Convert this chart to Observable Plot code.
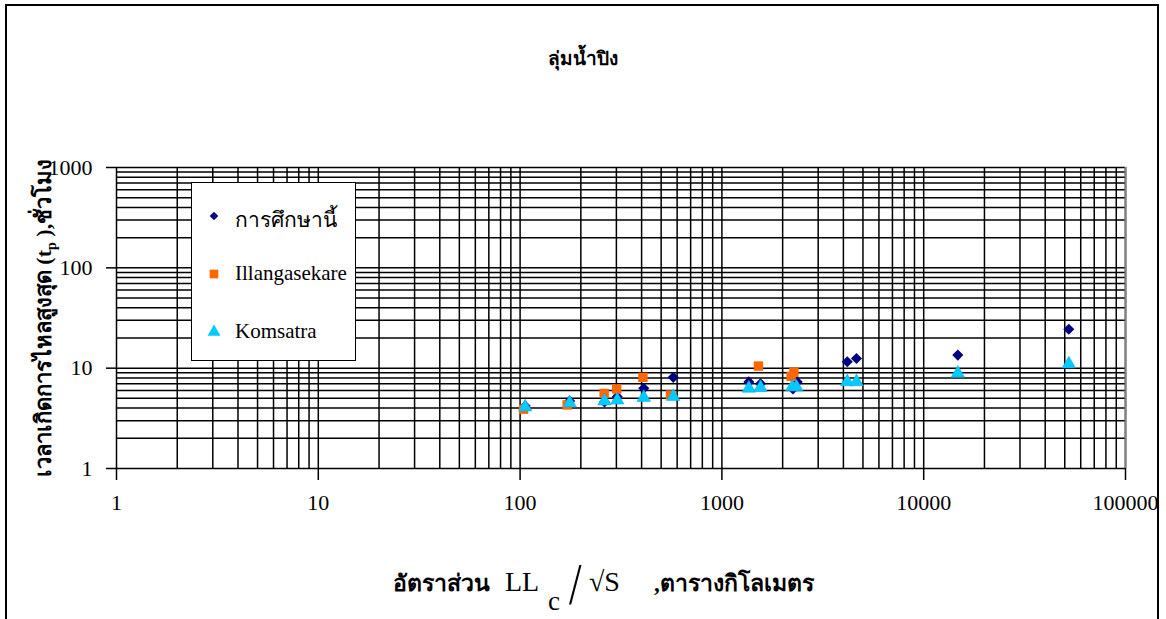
<!DOCTYPE html>
<html><head><meta charset="utf-8">
<script src="https://cdn.jsdelivr.net/npm/d3@7"></script>
<script src="https://cdn.jsdelivr.net/npm/@observablehq/plot@0.6"></script>
<style>
body{margin:0;background:#fff;}
#wrap{position:relative;width:1166px;height:619px;overflow:hidden;font-family:"Liberation Serif","DejaVu Serif","Times New Roman",serif;color:#000;}
#frame{position:absolute;left:5px;top:4px;width:1150px;height:660px;border:2px solid #000;}
#chart{position:absolute;left:0;top:0;}
.t{position:absolute;white-space:nowrap;line-height:1;}
#title{left:0;width:1166px;top:49px;text-align:center;font-weight:bold;font-size:19px;}
#ylab{left:46px;top:318px;transform:translate(-50%,-50%) rotate(-90deg);font-weight:bold;font-size:22px;}
.xl{position:absolute;white-space:nowrap;line-height:1;transform:translateY(-50%);}
#legend{position:absolute;left:191px;top:182px;width:163px;height:177px;border:1.5px solid #000;background:#fff;}
.li{position:absolute;left:0;height:30px;font-size:21px;}
.li svg{position:absolute;left:11px;top:4px;}
.li span{position:absolute;left:43px;top:2px;white-space:nowrap;}
</style></head>
<body>
<div id="wrap">
  <div id="chart"></div>
  <div id="frame"></div>
  <div id="title" class="t">ลุ่มน้ำปิง</div>
  <div id="ylab" class="t">เวลาเกิดการไหลสูงสุด (t<sub style="font-size:14px">p</sub> ),ชั่วโมง</div>
  <div class="xl" style="left:393px;top:583px;font-size:23px;font-weight:bold">อัตราส่วน</div>
  <div class="xl" style="left:505px;top:582px;font-size:28px">LL</div>
  <div class="xl" style="left:548px;top:601px;font-size:27px">c</div>
  <div class="xl" style="left:567px;top:584px;font-size:60px;font-weight:normal;transform:translateY(-50%) scaleX(0.75)">/</div>
  <div class="xl" style="left:589px;top:582px;font-size:28px">√S</div>
  <div class="xl" style="left:654px;top:583px;font-size:23px;font-weight:bold">,ตารางกิโลเมตร</div>
  <div id="legend"></div>
</div>
<script>
const seriesNames = ["การศึกษานี้", "Illangasekare", "Komsatra"];
const seriesColors = ["#000080", "#ff6600", "#00ccff"];
const seriesSymbols = ["diamond2", "square", "triangle"];

const studyRatio = [106, 176, 262, 303, 410, 574, 1360, 1554, 2250, 2361, 4180, 4645, 14760, 52360];
const studyTp    = [4.2, 4.7, 4.6, 5.2, 6.3, 8.1, 7.3, 7.0, 6.2, 7.3, 11.6, 12.5, 13.5, 24.4];

const illRatio = [104, 171, 261, 301, 406, 556, 1518, 2204, 2273];
const illTp    = [3.9, 4.3, 5.6, 6.2, 8.1, 5.4, 10.5, 8.3, 9.1];

const komRatio = [106, 176, 262, 303, 410, 574, 1360, 1554, 2232, 2340, 4180, 4645, 14760, 52360];
const komTp    = [4.1, 4.5, 4.7, 4.8, 5.1, 5.2, 6.3, 6.4, 6.5, 6.5, 7.3, 7.3, 8.9, 11.0];

const xTickValues = [1, 10, 100, 1000, 10000, 100000];
const xTickLabels = ["1", "10", "100", "1000", "10000", "100000"];
const yTickValues = [1, 10, 100, 1000];
const yTickLabels = ["1", "10", "100", "1000"];

const gridXValues = d3.range(0, 5).flatMap(e => d3.range(1, 10).map(m => m * 10 ** e)).concat([1e5]);
const gridYValues = d3.range(0, 3).flatMap(e => d3.range(1, 10).map(m => m * 10 ** e)).concat([1e3]);

const toRows = (xs, ys, s) => xs.map((x, i) => ({ratio: x, tp: ys[i], series: s}));
const study = toRows(studyRatio, studyTp, seriesNames[0]);
const ill = toRows(illRatio, illTp, seriesNames[1]);
const kom = toRows(komRatio, komTp, seriesNames[2]);

const chart = Plot.plot({
  width: 1166, height: 619,
  marginLeft: 116, marginRight: 41, marginTop: 167, marginBottom: 151,
  style: {fontFamily: '"Liberation Serif","DejaVu Serif","Times New Roman",serif', fontSize: "22px", background: "transparent", color: "#000"},
  x: {type: "log", domain: [1, 1e5]},
  y: {type: "log", domain: [1, 1000]},
  marks: [
    Plot.gridX(gridXValues, {stroke: "#000", strokeOpacity: 1, strokeWidth: 1.5}),
    Plot.gridY(gridYValues, {stroke: "#000", strokeOpacity: 1, strokeWidth: 1.5}),
    Plot.ruleX([1e5], {y1: 1, y2: 1000, stroke: "#808080", strokeWidth: 2}),
    Plot.axisX(xTickValues, {tickSize: 12, tickPadding: 14, strokeWidth: 1.5, tickFormat: d => xTickLabels[xTickValues.indexOf(d)], label: null, fontSize: 22}),
    Plot.axisY(yTickValues, {tickSize: 10, tickPadding: 14, strokeWidth: 1.5, tickFormat: d => yTickLabels[yTickValues.indexOf(d)], label: null, fontSize: 22}),
    Plot.dot(study, {x: "ratio", y: "tp", symbol: () => seriesSymbols[0], r: 5, fill: seriesColors[0], stroke: "none"}),
    Plot.dot(ill, {x: "ratio", y: "tp", symbol: () => seriesSymbols[1], r: 5.3, fill: seriesColors[1], stroke: "none"}),
    Plot.dot(kom, {x: "ratio", y: "tp", symbol: () => seriesSymbols[2], r: 5, fill: seriesColors[2], stroke: "#22aadd", strokeWidth: 0.6})
  ]
});
document.getElementById("chart").appendChild(chart);

// legend
const legend = document.getElementById("legend");
const legendTops = [18, 76, 134];
const symMap = {diamond2: d3.symbolDiamond2, square: d3.symbolSquare, triangle: d3.symbolTriangle};
const symR = [3.9, 4.9, 4.8];
seriesNames.forEach((name, i) => {
  const item = document.createElement("div");
  item.className = "li";
  item.style.top = legendTops[i] + "px";
  const path = d3.symbol(symMap[seriesSymbols[i]], Math.PI * symR[i] ** 2)();
  item.innerHTML = `<svg width="22" height="22" viewBox="-11 -11 22 22"><path d="${path}" fill="${seriesColors[i]}"/></svg><span>${name}</span>`;
  legend.appendChild(item);
});
</script>
</body></html>
